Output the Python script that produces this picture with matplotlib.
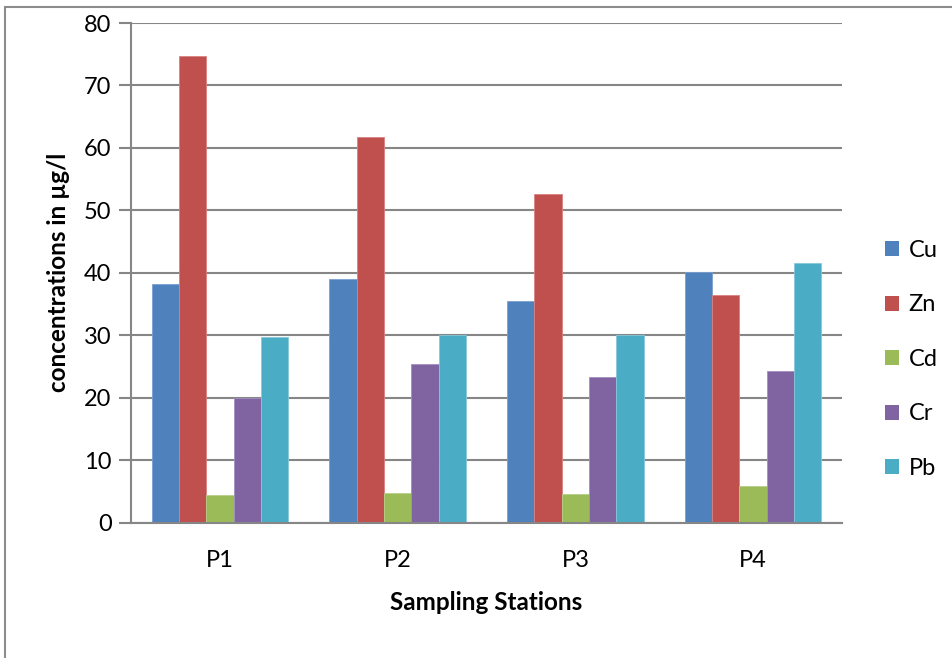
import matplotlib
matplotlib.use("Agg")
import matplotlib.pyplot as plt
import numpy as np
from matplotlib.patches import Rectangle, Patch

stations = ["P1", "P2", "P3", "P4"]
metals = ["Cu", "Zn", "Cd", "Cr", "Pb"]
cu = [38.2, 39.0, 35.5, 40.2]
zn = [74.7, 61.7, 52.6, 36.5]
cd = [4.4, 4.7, 4.6, 5.8]
cr = [20.0, 25.4, 23.3, 24.3]
pb = [29.7, 30.0, 30.1, 41.5]
y_ticks = [0, 10, 20, 30, 40, 50, 60, 70, 80]

series = [cu, zn, cd, cr, pb]
colors = ["#4F81BD", "#C0504D", "#9BBB59", "#8064A2", "#4BACC6"]
edges = ["#7A9FD0", "#D88280", "#B7D08A", "#A38FC0", "#85C8DA"]

plt.rcParams["font.family"] = ["Lato", "DejaVu Sans"]

W, H = 952, 658
fig = plt.figure(figsize=(W / 100, H / 100), dpi=100)

# outer chart frame
fig.patches.append(Rectangle((5 / W, -0.05), 1.1, 1 - 7 / H + 0.05,
                             transform=fig.transFigure, fill=False,
                             edgecolor="#8C8C8C", linewidth=1.5))

ax = fig.add_axes([131 / W, (H - 522.5) / H, (842 - 131) / W, 499.5 / H])

x = np.arange(len(stations))
n = len(metals)
bw = 1 / 6.5
for i, (vals, c, e) in enumerate(zip(series, colors, edges)):
    ax.bar(x + (i - (n - 1) / 2) * bw, vals, width=bw, color=c,
           edgecolor=e, linewidth=0.6, label=metals[i], zorder=3)

ax.set_xlim(-0.5, len(stations) - 0.5)
ax.set_ylim(0, 80)
ax.set_yticks(y_ticks)
ax.set_xticks(x)
ax.set_xticklabels(stations)
ax.tick_params(axis="y", labelsize=17, length=9, width=1.5, color="#868686",
               direction="out", pad=5)
ax.tick_params(axis="x", labelsize=17, length=0, pad=20)
ax.grid(axis="y", color="#868686", linewidth=1.5, zorder=0)
for s in ["top", "right"]:
    ax.spines[s].set_visible(False)
for s in ["left", "bottom"]:
    ax.spines[s].set_color("#868686")
    ax.spines[s].set_linewidth(1.5)
    ax.spines[s].set_zorder(4)

ax.set_xlabel("Sampling Stations", fontsize=17.5, fontweight="bold", labelpad=14)
ax.set_ylabel("concentrations in µg/l", fontsize=17.5, fontweight="bold", labelpad=10)

handles = [Patch(facecolor=c, edgecolor="none") for c in colors]
fig.legend(handles, metals, loc="upper left", bbox_to_anchor=(873 / W, 1 - 228 / H),
           frameon=False, fontsize=17, handlelength=0.6, handleheight=0.6,
           handletextpad=0.4, labelspacing=1.42, borderpad=0)

fig.savefig("out.png", dpi=100)
